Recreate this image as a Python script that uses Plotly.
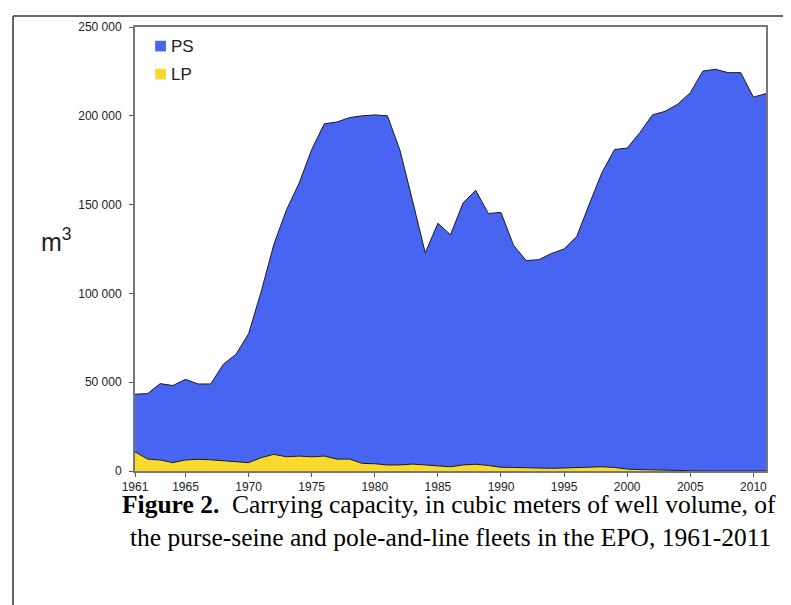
import plotly.graph_objects as go

years = list(range(1961, 2012))

# purse-seine capacity (m3), stacked on top of pole-and-line
ps = [
    32400, 36900, 43000, 43400, 45400, 42400, 42700, 54300, 60700, 72600,
    93500, 118100, 139000, 153600, 173000, 187100, 189800, 192300, 195700, 196400,
    196600, 177100, 148100, 119400, 136700, 130600, 147600, 154200, 141900, 143500,
    125000, 116800, 117600, 121000, 123300, 130000, 147900, 165600, 179000, 180700,
    189700, 199900, 202200, 206400, 213000, 225200, 226200, 224300, 224300, 210500,
    212500,
]

# pole-and-line capacity (m3)
lp = [
    10800, 6700, 6200, 4700, 6200, 6600, 6300, 5800, 5000, 4700,
    7500, 9400, 8000, 8400, 8000, 8400, 6700, 6700, 4300, 4100,
    3400, 3400, 3900, 3400, 2800, 2400, 3400, 3800, 3100, 2100,
    2000, 1700, 1400, 1500, 1700, 2000, 2400, 2400, 2000, 1100,
    800, 600, 300, 100, 0, 0, 0, 0, 0, 0,
    0,
]

x_ticks = [1961, 1965, 1970, 1975, 1980, 1985, 1990, 1995, 2000, 2005, 2010]
y_ticks = [0, 50000, 100000, 150000, 200000, 250000]
y_labels = ["0", "50 000", "100 000", "150 000", "200 000", "250 000"]

BLUE = "#4865F2"
YELLOW = "#F9D92C"
SERIF = "Liberation Serif, Times New Roman, serif"
SANS = "Liberation Sans, Arial, sans-serif"

fig = go.Figure()

fig.add_trace(
    go.Scatter(
        x=years, y=lp, name="LP", stackgroup="cap", mode="lines",
        line=dict(color="#1a1a1a", width=1), fillcolor=YELLOW, showlegend=False,
    )
)
fig.add_trace(
    go.Scatter(
        x=years, y=ps, name="PS", stackgroup="cap", mode="lines",
        line=dict(color="#1a1a1a", width=1), fillcolor=BLUE, showlegend=False,
    )
)

# hand-made legend (small squares like the original)
for i, (label, color) in enumerate((("PS", BLUE), ("LP", YELLOW))):
    yc = 0.957 - i * 0.063
    fig.add_shape(
        type="rect", xref="paper", yref="paper",
        x0=0.032, x1=0.049, y0=yc - 0.012, y1=yc + 0.012,
        fillcolor=color, line=dict(width=0),
    )
    fig.add_annotation(
        text=label, xref="paper", yref="paper", x=0.054, y=yc,
        xanchor="left", yanchor="middle", showarrow=False,
        font=dict(size=17, color="#222"),
    )

# y axis title
fig.add_annotation(
    text="m<sup>3</sup>", xref="paper", yref="paper", x=-0.124, y=0.52,
    xanchor="center", yanchor="middle", showarrow=False,
    font=dict(size=25, color="#222"),
)

# caption
fig.add_annotation(
    text="<b>Figure 2.</b>  Carrying capacity, in cubic meters of well volume, of",
    xref="paper", yref="paper", x=0.497, y=-0.076, xanchor="center", yanchor="middle",
    showarrow=False, font=dict(family=SERIF, size=25.5, color="#000"),
)
fig.add_annotation(
    text="the purse-seine and pole-and-line fleets in the EPO, 1961-2011",
    xref="paper", yref="paper", x=0.500, y=-0.149, xanchor="center", yanchor="middle",
    showarrow=False, font=dict(family=SERIF, size=25.5, color="#000"),
)

# document frame around the figure
fig.add_shape(type="line", xref="paper", yref="paper", x0=-0.1933, x1=-0.1933, y0=1.0247, y1=-0.4,
              line=dict(color="#333", width=1.5))
fig.add_shape(type="line", xref="paper", yref="paper", x0=-0.1933, x1=1.1, y0=1.0247, y1=1.0247,
              line=dict(color="#333", width=1.5))

fig.update_xaxes(
    range=[1961, 2011], tickvals=x_ticks, ticks="outside", ticklen=4, tickcolor="#555",
    showline=True, linecolor="#777", linewidth=2, mirror=True, showgrid=False, zeroline=False,
    tickfont=dict(family=SANS, size=12, color="#222"),
)
fig.update_yaxes(
    range=[0, 250000], tickvals=y_ticks, ticktext=y_labels, ticks="outside", ticklen=4,
    tickcolor="#555", showline=True, linecolor="#777", linewidth=2, mirror=True,
    showgrid=False, zeroline=False, ticklabelstandoff=5,
    tickfont=dict(family=SANS, size=12, color="#222"),
)

fig.update_layout(
    width=783, height=597,
    margin=dict(l=127, r=25, t=17, b=134),
    paper_bgcolor="white", plot_bgcolor="white",
    font=dict(family=SANS),
)

fig.write_html("out.html")
